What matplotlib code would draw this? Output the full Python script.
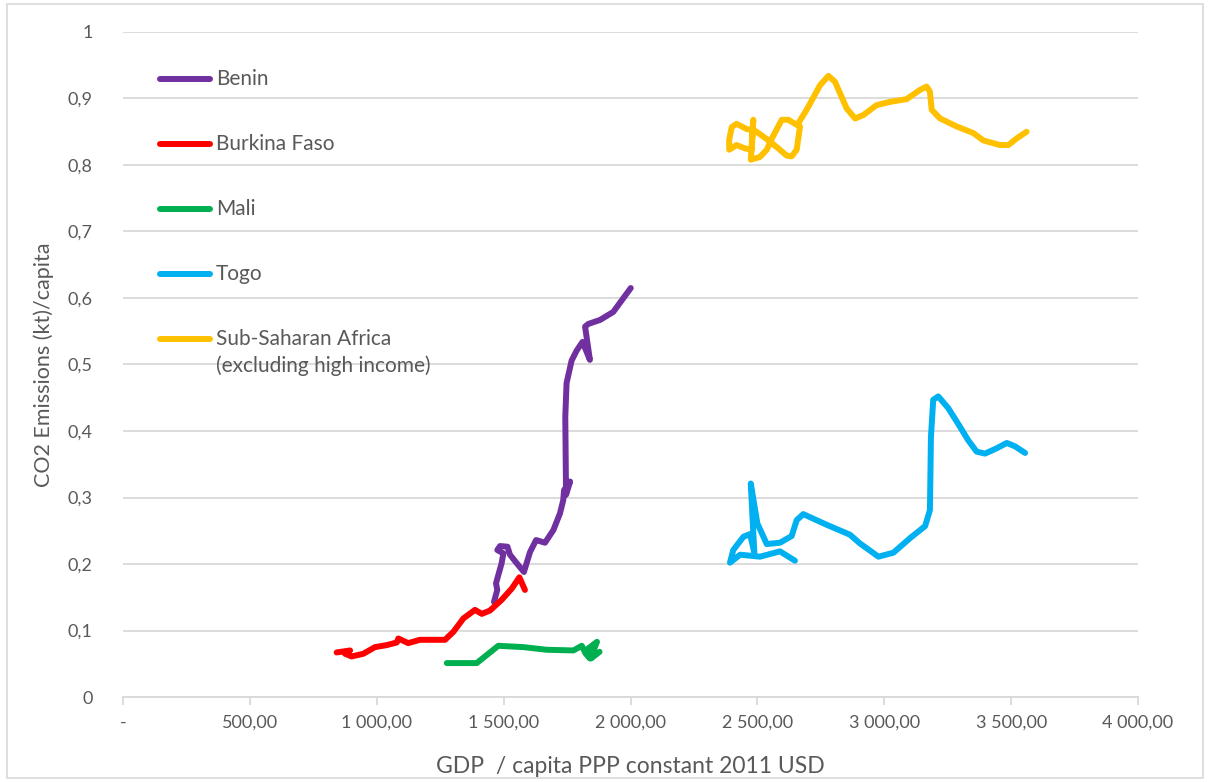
import matplotlib
matplotlib.use('Agg')

import matplotlib.pyplot as plt
from matplotlib.patches import Rectangle
from matplotlib.ticker import FixedLocator, FuncFormatter

plt.rcParams['font.family'] = ['Lato', 'DejaVu Sans']

# GDP per capita (PPP, constant 2011 USD) vs CO2 per capita
benin_gdp = [1462, 1475, 1470, 1492, 1499, 1475, 1486, 1515, 1525, 1552, 1580, 1604,
             1628, 1663, 1696, 1722, 1735, 1738, 1762, 1746, 1743, 1748, 1768, 1788,
             1811, 1840, 1821, 1834, 1880, 1932, 2001]
benin_co2 = [0.143, 0.161, 0.171, 0.201, 0.216, 0.221, 0.227, 0.226, 0.214, 0.201, 0.188, 0.218,
             0.236, 0.232, 0.251, 0.276, 0.296, 0.311, 0.324, 0.304, 0.421, 0.472, 0.506, 0.521,
             0.534, 0.507, 0.557, 0.561, 0.567, 0.579, 0.615]

burkina_gdp = [842, 895, 875, 901, 947, 993, 1039, 1079, 1085, 1124, 1170, 1223, 1269,
               1302, 1341, 1387, 1414, 1446, 1492, 1532, 1562, 1584]
burkina_co2 = [0.067, 0.070, 0.065, 0.061, 0.065, 0.075, 0.078, 0.082, 0.088, 0.081, 0.086,
               0.086, 0.086, 0.098, 0.118, 0.131, 0.125, 0.130, 0.146, 0.163, 0.180, 0.161]

mali_gdp = [1276, 1394, 1479, 1578, 1670, 1775, 1808, 1822, 1840, 1830, 1868, 1850, 1845, 1878]
mali_co2 = [0.051, 0.051, 0.077, 0.075, 0.071, 0.070, 0.077, 0.066, 0.058, 0.072, 0.083,
            0.066, 0.058, 0.068]

togo_gdp = [2648, 2589, 2510, 2432, 2392, 2405, 2445, 2471, 2488, 2474, 2500, 2537, 2589,
            2635, 2655, 2681, 2773, 2865, 2904, 2977, 3036, 3102, 3161, 3180, 3184, 3193,
            3213, 3253, 3299, 3331, 3364, 3397, 3443, 3483, 3515, 3555]
togo_co2 = [0.205, 0.219, 0.211, 0.214, 0.202, 0.221, 0.241, 0.245, 0.217, 0.321, 0.261,
            0.230, 0.232, 0.242, 0.266, 0.275, 0.259, 0.244, 0.231, 0.211, 0.217, 0.239,
            0.257, 0.281, 0.391, 0.447, 0.452, 0.434, 0.406, 0.386, 0.369, 0.366, 0.374,
            0.382, 0.377, 0.367]

ssa_gdp = [2668, 2655, 2635, 2616, 2576, 2537, 2504, 2484, 2458, 2418, 2399, 2389, 2389,
           2418, 2451, 2478, 2484, 2474, 2510, 2537, 2556, 2596, 2622, 2657, 2694, 2747,
           2780, 2806, 2852, 2885, 2917, 2970, 3023, 3088, 3141, 3167, 3180, 3187, 3220,
           3285, 3351, 3390, 3456, 3489, 3522, 3561]
ssa_co2 = [0.858, 0.823, 0.813, 0.814, 0.827, 0.839, 0.848, 0.853, 0.854, 0.862, 0.857,
           0.838, 0.823, 0.830, 0.825, 0.823, 0.868, 0.808, 0.812, 0.823, 0.839, 0.868,
           0.868, 0.860, 0.883, 0.920, 0.934, 0.925, 0.885, 0.870, 0.875, 0.890, 0.895,
           0.899, 0.913, 0.918, 0.910, 0.883, 0.870, 0.858, 0.848, 0.837, 0.830, 0.830,
           0.840, 0.850]

labels = ['Benin', 'Burkina Faso', 'Mali', 'Togo',
          'Sub-Saharan Africa\n(excluding high income)']
colors = ['#7030A0', '#FF0000', '#00B050', '#00B0F0', '#FFC000']
series = [(benin_gdp, benin_co2), (burkina_gdp, burkina_co2), (mali_gdp, mali_co2),
          (togo_gdp, togo_co2), (ssa_gdp, ssa_co2)]

x_ticks = [0, 500, 1000, 1500, 2000, 2500, 3000, 3500, 4000]
y_ticks = [0, 0.1, 0.2, 0.3, 0.4, 0.5, 0.6, 0.7, 0.8, 0.9, 1.0]

text_col = '#595959'
grid_col = '#D9D9D9'

fig = plt.figure(figsize=(12.09, 7.82), dpi=100)
ax = fig.add_axes([123 / 1209, 1 - 697 / 782, 1015 / 1209, 665 / 782])

for (gx, gy), col in zip(series, colors):
    ax.plot(gx, gy, color=col, lw=4.3, solid_capstyle='round', solid_joinstyle='round',
            zorder=3)

ax.set_xlim(0, 4000)
ax.set_ylim(0, 1)


def fmt_x(v, pos):
    if v == 0:
        return '-'
    return f'{v:,.2f}'.replace(',', ' ').replace('.', ',')


def fmt_y(v, pos):
    if v == 0:
        return '0'
    if v == 1:
        return '1'
    return f'{v:.1f}'.replace('.', ',')


ax.xaxis.set_major_locator(FixedLocator(x_ticks))
ax.yaxis.set_major_locator(FixedLocator(y_ticks))
ax.xaxis.set_major_formatter(FuncFormatter(fmt_x))
ax.yaxis.set_major_formatter(FuncFormatter(fmt_y))

ax.grid(axis='y', color=grid_col, lw=1.3, zorder=0)
for side in ['top', 'right', 'left']:
    ax.spines[side].set_visible(False)
ax.spines['bottom'].set_color(grid_col)
ax.spines['bottom'].set_linewidth(1.3)
ax.tick_params(axis='x', colors=grid_col, length=6, width=1.3, labelcolor=text_col,
               labelsize=13, pad=7)
ax.tick_params(axis='y', length=0, labelcolor=text_col, labelsize=13, pad=22)

ax.set_xlabel('GDP  / capita PPP constant 2011 USD', color=text_col, fontsize=16.5,
              labelpad=18)
ax.set_ylabel('CO2 Emissions (kt)/capita', color=text_col, fontsize=15.5, labelpad=10)

# legend drawn by hand, Excel style: handle on the first text line
line_step = 0.0406
for i, (lab, col) in enumerate(zip(labels, colors)):
    yy = 0.929 - i * 0.0977
    ax.plot([0.0365, 0.0857], [yy, yy], color=col, lw=4.3, solid_capstyle='round',
            transform=ax.transAxes, zorder=4)
    for j, part in enumerate(lab.split('\n')):
        ax.text(0.0916, yy - j * line_step, part, color=text_col, fontsize=15,
                va='center', transform=ax.transAxes, zorder=4)

fig.patches.append(Rectangle((7 / 1209, 4 / 782), 1196 / 1209, 774 / 782,
                             transform=fig.transFigure, fill=False,
                             edgecolor=grid_col, lw=1.2))

fig.savefig('out.png', dpi=100)
